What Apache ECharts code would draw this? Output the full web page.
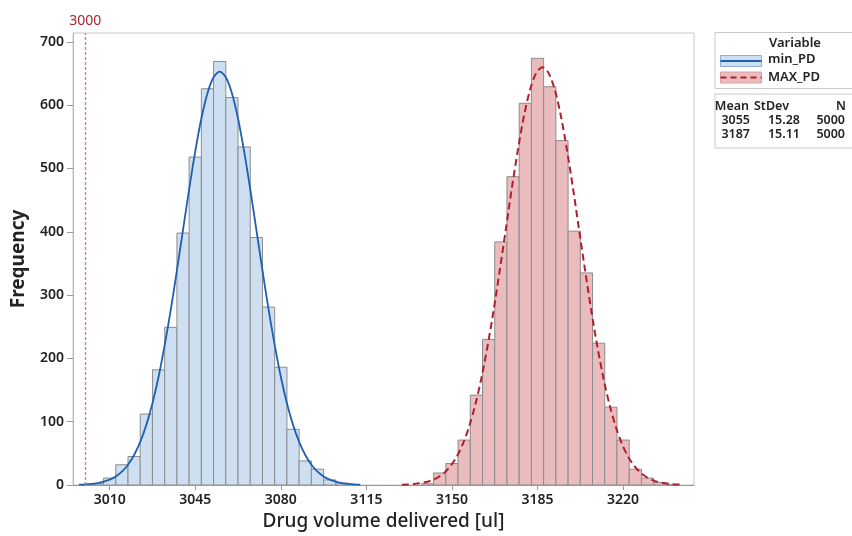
<!DOCTYPE html>
<html>
<head>
<meta charset="utf-8">
<script src="https://cdn.jsdelivr.net/npm/echarts@6/dist/echarts.min.js"></script>
<style>html,body{margin:0;padding:0;background:#fff}#c{width:852px;height:536px}</style>
</head>
<body>
<div id="c"></div>
<script>
// ---- data ----
const minBins   = [3005,3010,3015,3020,3025,3030,3035,3040,3045,3050,3055,3060,3065,3070,3075,3080,3085,3090,3095,3100,3105];
const minCounts = [2,11,32,45,112,182,249,398,518,626,669,612,534,391,281,186,88,38,25,8,3];
const maxBins   = [3140,3145,3150,3155,3160,3165,3170,3175,3180,3185,3190,3195,3200,3205,3210,3215,3220,3225,3230,3235,3240];
const maxCounts = [2,19,34,71,142,230,384,487,603,674,629,544,401,335,224,123,71,25,11,4,1];

const minCurveX = [2997.5,3000,3002.5,3005,3007.5,3010,3012.5,3015,3017.5,3020,3022.5,3025,3027.5,3030,3032.5,3035,3037.5,3040,3042.5,3045,3047.5,3050,3052.5,3055,3057.5,3060,3062.5,3065,3067.5,3070,3072.5,3075,3077.5,3080,3082.5,3085,3087.5,3090,3092.5,3095,3097.5,3100,3102.5,3105,3107.5,3110,3112.5];
const minCurveY = [0.55,1.0,1.8,3.1,5.2,8.5,13.6,21.2,32.1,47.4,68,95,129,171,221,277,339,403,467,527,579,619,644,653,644,619,579,527,467,403,339,277,221,171,129,95,68,47.4,32.1,21.2,13.6,8.5,5.2,3.1,1.8,1.0,0.55];
const maxCurveX = [3129.5,3132,3134.5,3137,3139.5,3142,3144.5,3147,3149.5,3152,3154.5,3157,3159.5,3162,3164.5,3167,3169.5,3172,3174.5,3177,3179.5,3182,3184.5,3187,3189.5,3192,3194.5,3197,3199.5,3202,3204.5,3207,3209.5,3212,3214.5,3217,3219.5,3222,3224.5,3227,3229.5,3232,3234.5,3237,3239.5,3242,3244.5];
const maxCurveY = [0.47,0.9,1.6,2.8,4.7,7.8,12.6,19.9,30.3,45.1,65.3,92,126,168,218,275,338,403,469,530,584,625,651,660,651,625,584,530,469,403,338,275,218,168,126,92,65.3,45.1,30.3,19.9,12.6,7.8,4.7,2.8,1.6,0.9,0.47];

const xTicks = [3010,3045,3080,3115,3150,3185,3220];
const yTicks = [0,100,200,300,400,500,600,700];
const refValue = 3000;

const seriesNames = ['min_PD','MAX_PD'];
const statHeader = ['Mean','StDev','N'];
const statMean = ['3055','3187'];
const statSd = ['15.28','15.11'];
const statN = ['5000','5000'];

// ---- chart ----
const BIN = 5;
const FONT = 'Noto Sans';
const blueFill = '#cddff0', redFill = '#ebbcbd', barStroke = '#8c8c8c';
const blueLine = '#1f5fb2', redLine = '#b01f2a', refColor = '#f26a6a';

function pairs(xs, ys){ return xs.map((x,i)=>[x, ys[i]]); }
function histRender(fill){
  return function(params, api){
    const c = api.value(0), v = api.value(1);
    const p0 = api.coord([c - BIN/2, v]);
    const p1 = api.coord([c + BIN/2, 0]);
    return {type:'rect', shape:{x:p0[0], y:p0[1], width:p1[0]-p0[0], height:p1[1]-p0[1]},
      style:{fill:fill, stroke:barStroke, lineWidth:1}};
  };
}

const chart = echarts.init(document.getElementById('c'), null, {renderer:'canvas'});
const txt = (t, x, y, opts) => Object.assign({type:'text', x:x, y:y, style:Object.assign({text:t, font:'600 13px "'+FONT+'"', fill:'#222', textAlign:'left', textVerticalAlign:'middle'}, opts||{})});
const F12 = '600 12.5px "'+FONT+'"';

const graphic = [
  {type:'rect', shape:{x:715, y:32.5, width:140, height:56}, style:{fill:'#fff', stroke:'#c8c8c8', lineWidth:1}},
  {type:'rect', shape:{x:715, y:94, width:140, height:54}, style:{fill:'#fff', stroke:'#c8c8c8', lineWidth:1}},
  txt('Variable', 795, 43, {textAlign:'center'}),
  {type:'rect', shape:{x:720.5, y:55.5, width:41, height:11}, style:{fill:blueFill, stroke:'#8fb0d8', lineWidth:1}},
  {type:'line', shape:{x1:720.5, y1:61, x2:761.5, y2:61}, style:{stroke:blueLine, lineWidth:2}},
  {type:'rect', shape:{x:720.5, y:72, width:41, height:11}, style:{fill:redFill, stroke:'#dca0a2', lineWidth:1}},
  {type:'line', shape:{x1:720.5, y1:77.5, x2:761.5, y2:77.5}, style:{stroke:redLine, lineWidth:2, lineDash:[6,4]}},
  txt(seriesNames[0], 768, 59),
  txt(seriesNames[1], 768, 77),
  txt(statHeader[0], 749, 106, {textAlign:'right', font:F12}),
  txt(statHeader[1], 789, 106, {textAlign:'right', font:F12}),
  txt(statHeader[2], 846, 106, {textAlign:'right', font:F12}),
  txt(statMean[0], 750, 120, {textAlign:'right', font:F12}),
  txt(statSd[0], 800, 120, {textAlign:'right', font:F12}),
  txt(statN[0], 845, 120, {textAlign:'right', font:F12}),
  txt(statMean[1], 750, 134, {textAlign:'right', font:F12}),
  txt(statSd[1], 800, 134, {textAlign:'right', font:F12}),
  txt(statN[1], 845, 134, {textAlign:'right', font:F12})
];

chart.setOption({
  animation:false,
  backgroundColor:'#fff',
  textStyle:{fontFamily:FONT},
  grid:{left:73, right:158, top:33, bottom:46, show:true, borderColor:'#c8c8c8', borderWidth:1, containLabel:false},
  xAxis:{type:'value', min:2995, max:3249,
    name:'Drug volume delivered [ul]', nameLocation:'middle', nameGap:27,
    nameTextStyle:{fontSize:19, color:'#222', fontFamily:FONT, fontWeight:500},
    axisLine:{show:true, lineStyle:{color:'#999'}},
    axisTick:{show:true, length:5, inside:false, customValues:xTicks, lineStyle:{color:'#999'}},
    axisLabel:{customValues:xTicks, formatter:(v)=>String(v), fontSize:14, fontWeight:600, color:'#222', margin:8, fontFamily:FONT},
    splitLine:{show:false}},
  yAxis:{type:'value', min:0, max:714,
    name:'Frequency', nameLocation:'middle', nameGap:45, nameRotate:90,
    nameTextStyle:{fontSize:19, fontWeight:'bold', color:'#222', fontFamily:FONT},
    axisLine:{show:true, lineStyle:{color:'#bbb'}},
    axisTick:{show:true, length:6, customValues:yTicks, lineStyle:{color:'#999'}},
    axisLabel:{customValues:yTicks, formatter:(v)=>String(v), fontSize:14, fontWeight:600, color:'#222', margin:9, fontFamily:FONT},
    splitLine:{show:false}},
  graphic:graphic,
  series:[
    {type:'custom', name:seriesNames[0], renderItem:histRender(blueFill), data:pairs(minBins,minCounts), clip:true, z:2},
    {type:'custom', name:seriesNames[1], renderItem:histRender(redFill), data:pairs(maxBins,maxCounts), clip:true, z:2},
    {type:'line', name:seriesNames[0]+' fit', data:pairs(minCurveX,minCurveY), showSymbol:false, smooth:0.3, z:3,
      lineStyle:{color:blueLine, width:1.8}, itemStyle:{color:blueLine}},
    {type:'line', name:seriesNames[1]+' fit', data:pairs(maxCurveX,maxCurveY), showSymbol:false, smooth:0.3, z:3,
      lineStyle:{color:redLine, width:2, type:[7,4]}, itemStyle:{color:redLine}},
    {type:'line', name:'ref', data:[], z:4, color:refColor, itemStyle:{color:refColor}, lineStyle:{color:refColor},
      markLine:{silent:true, symbol:['none','none'], animation:false,
        lineStyle:{color:refColor, type:[3,2], width:1.3, opacity:1},
        emphasis:{disabled:true},
        label:{show:true, position:'end', formatter:String(refValue), color:'#a8262b', fontSize:14, fontFamily:FONT, distance:5},
        data:[{xAxis:refValue, lineStyle:{color:refColor}}]}}
  ]
});
</script>
</body>
</html>
